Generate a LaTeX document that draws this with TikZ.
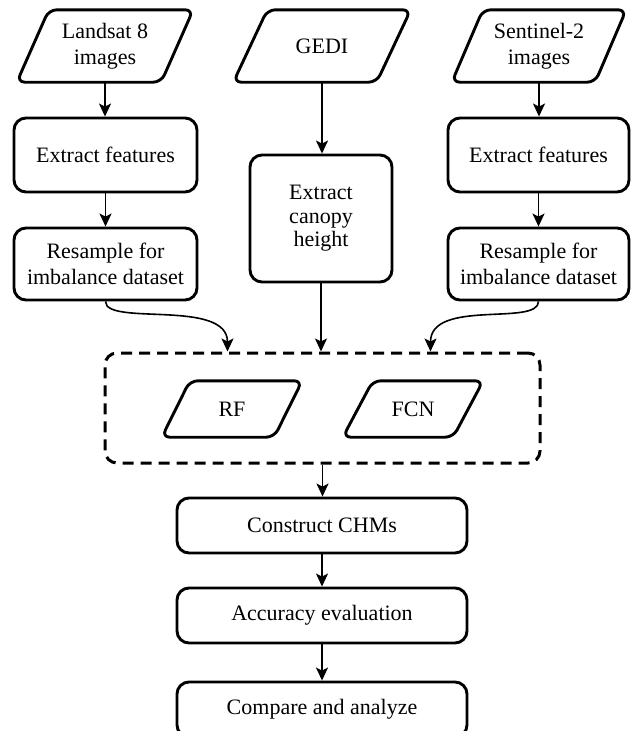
\documentclass[tikz,border=0pt]{standalone}
\usepackage{fontspec}
\setmainfont{Liberation Serif}
\usetikzlibrary{arrows.meta,calc}
\tikzset{
  basefont/.style={font=\fontsize{22}{26.5}\selectfont},
  boxst/.style={draw, line width=2.9pt, rounded corners=12pt, align=center, inner sep=2pt, basefont},
  txt/.style={align=center, inner sep=0pt, basefont},
  arr/.style={-{Stealth[length=13pt,width=12pt,inset=3pt]}, line width=1.6pt},
  parast/.style={draw, line width=2.9pt, rounded corners=8pt, line join=round},
  dashst/.style={draw, line width=3pt, dash pattern=on 11pt off 7pt, rounded corners=12pt},
}
\newcommand\paraN[7]{%
  \node[txt, minimum width=#4pt+#6pt, minimum height=#5pt] (#1) at (#2,#3) {#7};
  \draw[parast] ([xshift=#6pt]#1.north west) -- (#1.north east) -- ([xshift=-#6pt]#1.south east) -- (#1.south west) -- cycle;
}
\begin{document}
\begin{tikzpicture}[x=1pt, y=-1pt]
\useasboundingbox (0,0) rectangle (631,731);
\clip (0,0) rectangle (631,731);

\paraN{l8}{105}{46}{144}{72}{32}{Landsat 8\\images}
\paraN{gedi}{322}{46}{143}{72}{34}{GEDI}
\paraN{s2}{539}{46}{143}{72}{31}{Sentinel-2\\images}

\node[boxst, minimum width=183pt, minimum height=74pt] (ef1) at (105.5,155) {Extract features};
\node[boxst, minimum width=183pt, minimum height=72pt] (rs1) at (105.5,264) {Resample for\\imbalance dataset};
\node[boxst, minimum width=142pt, minimum height=127pt, font=\fontsize{22}{23.5}\selectfont] (ech) at (321,218.5) {Extract\\canopy\\height};
\node[boxst, minimum width=181pt, minimum height=74pt] (ef2) at (538.5,155) {Extract features};
\node[boxst, minimum width=181pt, minimum height=72pt] (rs2) at (538.5,264) {Resample for\\imbalance dataset};

\node[dashst, minimum width=435pt, minimum height=110pt] (ml) at (322.5,408) {};
\paraN{rf}{232}{409}{112}{56}{28}{RF}
\paraN{fcn}{413}{409}{110}{56}{30}{FCN}

\node[boxst, minimum width=290pt, minimum height=55pt] (chm) at (322,525.5) {Construct CHMs};
\node[boxst, minimum width=290pt, minimum height=55pt] (acc) at (322,615.5) {Accuracy evaluation};
\node[boxst, minimum width=290pt, minimum height=55pt] (cmp) at (322,709.5) {Compare and analyze};

\draw[arr] (l8.south) -- (l8.south |- ef1.north);
\draw[arr] (ef1.south) -- (rs1.north);
\draw[arr] (s2.south) -- (s2.south |- ef2.north);
\draw[arr] (ef2.south) -- (rs2.north);
\draw[arr] (gedi.south) -- (gedi.south |- ech.north);
\draw[arr] (ech.south) -- (ech.south |- ml.north);

\coordinate (inL) at ([xshift=-95pt]ml.north);
\coordinate (inR) at ([xshift=108pt]ml.north);
\draw[arr] (rs1.south) .. controls +(0,25) and +(0,-53) .. (inL);
\draw[arr] (rs2.south) .. controls +(0,25) and +(0,-53) .. (inR);

\draw[arr] (ml.south) -- (ml.south |- chm.north);
\draw[arr] (chm.south) -- (acc.north);
\draw[arr] (acc.south) -- (cmp.north);
\end{tikzpicture}
\end{document}
